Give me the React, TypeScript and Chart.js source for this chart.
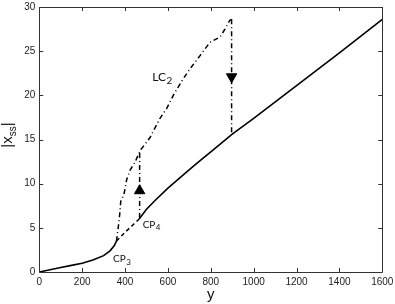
import React, { useEffect, useRef } from "react";
import { Chart, registerables } from "chart.js";
Chart.register(...registerables);

// ---- data ----
const xTicks = [0, 200, 400, 600, 800, 1000, 1200, 1400, 1600];
const yTicks = [0, 5, 10, 15, 20, 25, 30];

// stable lower branch (0 .. CP3)
const lowX = [0, 50, 100, 150, 200, 250, 300, 330, 350, 360];
const lowY = [0, 0.25, 0.5, 0.75, 1.0, 1.35, 1.85, 2.4, 3.0, 3.5];

// unstable branch (CP3 .. CP4)
const unstX = [360, 400, 440, 466];
const unstY = [3.5, 4.5, 5.4, 6.0];

// stable upper branch (CP4 .. end)
const highX = [466, 500, 540, 600, 700, 750, 800, 900, 1000, 1200, 1400, 1600];
const highY = [6.0, 7.1, 8.1, 9.5, 11.6, 12.6, 13.6, 15.6, 17.4, 21.1, 24.8, 28.6];

// limit cycle branch LC2
const lcX = [360, 368, 375, 380, 395, 408, 425, 446, 462, 475, 516, 563, 594, 625, 672, 703, 750, 796, 820, 843, 866, 889, 897];
const lcY = [3.5, 5.0, 6.5, 8.0, 8.8, 10.5, 11.6, 12.4, 13.3, 13.9, 15.2, 17.4, 18.5, 20.0, 21.9, 23.0, 24.5, 26.0, 26.3, 26.6, 27.5, 28.5, 28.6];

// jumps
const jumpUpX = [468, 468];
const jumpUpY = [6.1, 13.6];
const jumpDownX = [897, 897];
const jumpDownY = [28.6, 15.6];

// arrow heads
const arrowUp = { x: 468, y: 9.2 };
const arrowDown = { x: 897, y: 22.1 };

// annotations [text, sub, x, y, size]
const notes: [string, string, number, number, number][] = [
  ["LC", "2", 527, 21.6, 12],
  ["CP", "3", 344, 1.1, 10],
  ["CP", "4", 482, 5.0, 10],
];

const zip = (xs: number[], ys: number[]) => xs.map((x, i) => ({ x, y: ys[i] }));

const frame = {
  id: "frame",
  afterDraw(chart: any) {
    const { ctx, chartArea: a, scales } = chart;
    const sx = scales.x;
    const sy = scales.y;
    ctx.save();
    ctx.strokeStyle = "#333";
    ctx.lineWidth = 1;
    ctx.beginPath();
    ctx.rect(Math.round(a.left) + 0.5, Math.round(a.top) + 0.5, Math.round(a.right - a.left), Math.round(a.bottom - a.top));
    const t = 4;
    xTicks.forEach((v) => {
      const px = Math.round(sx.getPixelForValue(v)) + 0.5;
      ctx.moveTo(px, a.bottom);
      ctx.lineTo(px, a.bottom - t);
      ctx.moveTo(px, a.top);
      ctx.lineTo(px, a.top + t);
    });
    yTicks.forEach((v) => {
      const py = Math.round(sy.getPixelForValue(v)) + 0.5;
      ctx.moveTo(a.left, py);
      ctx.lineTo(a.left + t, py);
      ctx.moveTo(a.right, py);
      ctx.lineTo(a.right - t, py);
    });
    ctx.stroke();

    // annotations
    ctx.fillStyle = "#111";
    ctx.textBaseline = "alphabetic";
    ctx.textAlign = "left";
    notes.forEach(([txt, sub, x, y, size]) => {
      const px = sx.getPixelForValue(x);
      const py = sy.getPixelForValue(y);
      ctx.font = `${size}px Lato, "Open Sans", sans-serif`;
      ctx.fillText(txt, px, py);
      const w = ctx.measureText(txt).width;
      ctx.font = `${Math.round(size * 0.8)}px Lato, "Open Sans", sans-serif`;
      ctx.fillText(sub, px + w + 0.5, py + size * 0.25);
    });

    // x-axis title
    ctx.font = '15px "Liberation Sans", Arial, sans-serif';
    ctx.textAlign = "center";
    ctx.fillStyle = "#111";
    ctx.fillText("y", (a.left + a.right) / 2, 299);

    // y-axis title |x_ss|
    ctx.save();
    ctx.translate(12, 135);
    ctx.rotate(-Math.PI / 2);
    ctx.textAlign = "left";
    const f1 = '15px "Liberation Sans", Arial, sans-serif';
    const f2 = '10px "Liberation Sans", Arial, sans-serif';
    ctx.font = f1;
    const w1 = ctx.measureText("|x").width;
    const w3 = ctx.measureText("|").width;
    ctx.font = f2;
    const w2 = ctx.measureText("ss").width;
    const total = w1 + w2 + w3;
    let cx = -total / 2;
    ctx.font = f1;
    ctx.fillText("|x", cx, 0);
    cx += w1;
    ctx.font = f2;
    ctx.fillText("ss", cx, 4);
    cx += w2;
    ctx.font = f1;
    ctx.fillText("|", cx, 0);
    ctx.restore();

    ctx.restore();
  },
};

export default function App() {
  const ref = useRef<HTMLCanvasElement>(null);
  useEffect(() => {
    document.body.style.margin = "0";
    const canvas = ref.current!;
    const tickFont = { family: '"Liberation Sans", Arial, sans-serif', size: 10 };
    const chart = new Chart(canvas, {
      type: "scatter",
      data: {
        datasets: [
          { data: zip(lowX, lowY), showLine: true, borderColor: "#000", borderWidth: 1.6, pointRadius: 0 },
          { data: zip(unstX, unstY), showLine: true, borderColor: "#000", borderWidth: 1.5, borderDash: [4, 3], pointRadius: 0 },
          { data: zip(highX, highY), showLine: true, borderColor: "#000", borderWidth: 1.6, pointRadius: 0 },
          { data: zip(lcX, lcY), showLine: true, borderColor: "#000", borderWidth: 1.5, borderDash: [5, 3, 1, 3], pointRadius: 0 },
          { data: zip(jumpUpX, jumpUpY), showLine: true, borderColor: "#000", borderWidth: 1.5, borderDash: [5, 3, 1, 3], pointRadius: 0 },
          { data: zip(jumpDownX, jumpDownY), showLine: true, borderColor: "#000", borderWidth: 1.5, borderDash: [5, 3, 1, 3], pointRadius: 0 },
          { data: [arrowUp], showLine: false, pointStyle: "triangle", pointRadius: 6, backgroundColor: "#000", borderColor: "#000", borderWidth: 1 },
          { data: [arrowDown], showLine: false, pointStyle: "triangle", rotation: 180, pointRadius: 6, backgroundColor: "#000", borderColor: "#000", borderWidth: 1 },
        ],
      },
      options: {
        animation: false,
        responsive: false,
        maintainAspectRatio: false,
        layout: { padding: { top: 4.5, right: 12.7, left: 0, bottom: 0 } },
        plugins: { legend: { display: false }, tooltip: { enabled: false }, title: { display: false } },
        scales: {
          x: {
            type: "linear",
            min: 0,
            max: 1600,
            afterFit: (s: any) => { s.height = 32; s.paddingLeft = 0; s.paddingRight = 0; },
            afterBuildTicks: (s: any) => { s.ticks = xTicks.map((v) => ({ value: v })); },
            ticks: { font: tickFont, color: "#222", padding: 4, maxRotation: 0, autoSkip: false, callback: (v: any) => String(v) },
            grid: { drawOnChartArea: false, drawTicks: false },
            border: { display: false },
          },
          y: {
            type: "linear",
            min: 0,
            max: 30,
            afterFit: (s: any) => { s.width = 39.3; s.paddingTop = 0; s.paddingBottom = 0; },
            afterBuildTicks: (s: any) => { s.ticks = yTicks.map((v) => ({ value: v })); },
            ticks: { font: tickFont, color: "#222", padding: 4, autoSkip: false, callback: (v: any) => String(v) },
            grid: { drawOnChartArea: false, drawTicks: false },
            border: { display: false },
          },
        },
      },
      plugins: [frame],
    });
    return () => chart.destroy();
  }, []);
  return (
    <div style={{ width: 395, height: 304 }}>
      <canvas ref={ref} width={395} height={304} style={{ display: "block" }} />
    </div>
  );
}
